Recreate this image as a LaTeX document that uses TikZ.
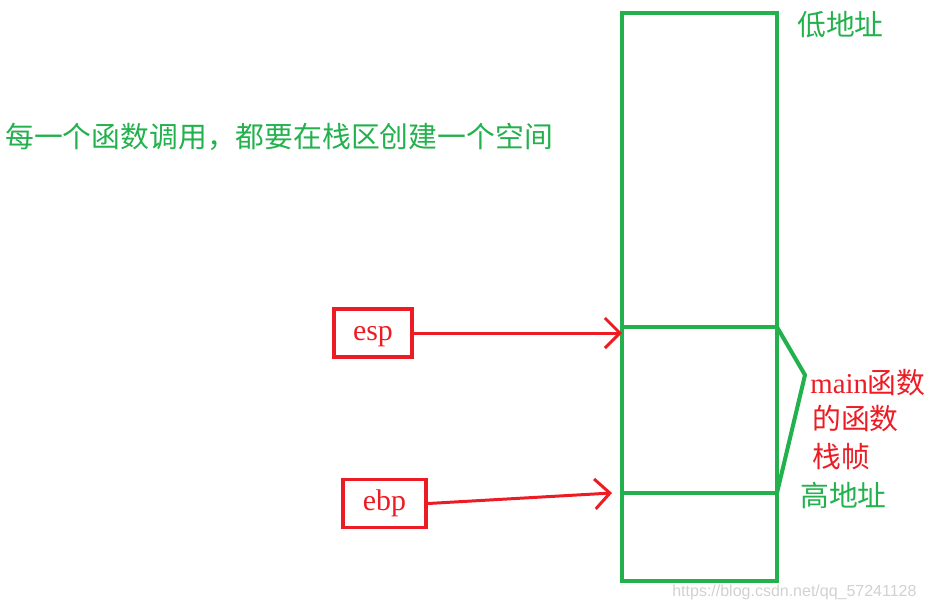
\documentclass[tikz,border=0pt]{standalone}
\usepackage{fontspec}
\setmainfont{Liberation Serif}
\newfontfamily\cjk{Noto Sans CJK SC}
\newfontfamily\wmfont{Liberation Sans}
\usepackage{tikz}
\usetikzlibrary{arrows.meta, positioning}

\definecolor{paintgreen}{RGB}{34,177,76}
\definecolor{paintred}{RGB}{237,28,36}

\begin{document}
\begin{tikzpicture}[
    x=0.02cm, y=-0.02cm,
    %% ── Styles ────────────────────────────────────────────────
    cell/.style={
        rectangle, anchor=north west,
        minimum width=3.1cm, inner sep=0pt, outer sep=0pt,
        draw=paintgreen, line width=2.3pt
    },
    reg/.style={
        rectangle,
        minimum width=1.56cm, minimum height=0.96cm,
        text centered, inner sep=0pt,
        text height=8pt, text depth=0pt,
        draw=paintred, line width=2.2pt,
        text=paintred, font=\fontsize{17}{20}\selectfont
    },
    gtext/.style={anchor=west, inner sep=0pt, text=paintgreen,
        font=\fontsize{16.4}{20}\selectfont\cjk},
    rtext/.style={anchor=west, inner sep=0pt, text=paintred,
        font=\fontsize{16.4}{20}\selectfont},
    arrow/.style={line width=1.7pt, draw=paintred,
        -{Straight Barb[length=0.3cm, width=0.6cm, line width=1.7pt]}}
]
\useasboundingbox (0,0) rectangle (926,610);

%% ── Stack column (top to bottom) ───────────────────────────────
\node (upper) [cell, minimum height=6.28cm] at (622,13)  {};
\node (frame) [cell, minimum height=3.32cm] at (622,327) {};
\node (lower) [cell, minimum height=1.76cm] at (622,493) {};

%% ── Labels ─────────────────────────────────────────────────────
\node (note)  [gtext] at (5,137)   {每一个函数调用，都要在栈区创建一个空间};
\node (low)   [gtext] at (797,25)  {低地址};
\node (high)  [gtext] at (800,495) {高地址};
\node (fr1)   [rtext] at (810,383) {main{\cjk 函数}};
\node (fr2)   [rtext] at (812,419) {\cjk 的函数};
\node (fr3)   [rtext] at (812,457) {\cjk 栈帧};
\node (mark)  [anchor=west, inner sep=0pt, text=black!18,
               font=\fontsize{9.1}{10}\selectfont\wmfont] at (672,592)
              {https://blog.csdn.net/qq\_57241128};

%% ── Registers ──────────────────────────────────────────────────
\node (esp) [reg] at (373,333) {esp};
\node (ebp) [reg, minimum width=1.66cm] at (384.5,503.5) {ebp};

%% ── Pointers and frame brace ───────────────────────────────────
\coordinate (ebptip) at ([xshift=-0.2cm]frame.south west);
\coordinate (bend)   at (805,375);
\draw [arrow] (esp.east) -- (esp.east -| frame.west);
\draw [arrow] (ebp.east) -- (ebptip);
\draw [draw=paintgreen, line width=2.3pt, line join=round]
    (frame.north east) -- (bend) -- (frame.south east);

\end{tikzpicture}
\end{document}
